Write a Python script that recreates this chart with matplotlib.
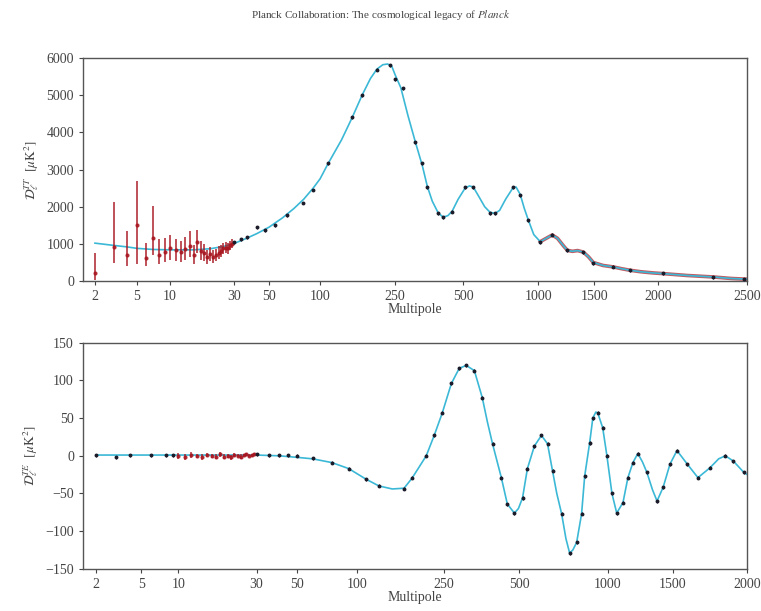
import numpy as np
import matplotlib
matplotlib.use('Agg')
import matplotlib.pyplot as plt

plt.rcParams['font.family'] = ['Liberation Serif', 'DejaVu Serif']
plt.rcParams['mathtext.fontset'] = 'stix'

# ---- TT spectrum ----
tt_model_ell = [2, 3, 4, 5, 7, 10, 15, 20, 25, 30, 36, 42, 50, 60, 70, 80, 91, 100,
                110, 130, 148, 167, 185, 200, 215, 228, 240, 250, 265, 285, 307, 330,
                347, 365, 388, 408, 428, 447, 475, 509, 530, 549, 575, 610, 641, 671,
                700, 740, 794, 815, 847, 880, 912, 960, 1015, 1060, 1107, 1150, 1200,
                1234, 1280, 1330, 1386, 1440, 1490, 1560, 1634, 1700, 1763, 1850, 1950,
                2025, 2150, 2296, 2400, 2500]
tt_model = [1020, 960, 920, 880, 850, 840, 840, 870, 930, 1010, 1150, 1280, 1450, 1700,
            1950, 2200, 2500, 2750, 3150, 3800, 4400, 5000, 5450, 5700, 5820, 5840, 5780,
            5550, 5200, 4450, 3750, 3100, 2550, 2150, 1830, 1720, 1760, 1880, 2200, 2500,
            2560, 2530, 2300, 2000, 1850, 1820, 1900, 2200, 2520, 2530, 2330, 1950, 1650,
            1250, 1060, 1150, 1240, 1150, 950, 830, 800, 820, 780, 650, 500, 420, 380,
            330, 290, 250, 220, 200, 150, 110, 70, 50]

tt_low_ell = list(range(2, 30))
tt_low = [220, 920, 700, 1500, 620, 1160, 700, 780, 900, 830, 780, 860, 950, 700, 1050,
          820, 750, 640, 720, 660, 700, 760, 820, 880, 900, 880, 960, 1000]
tt_low_lo = [200, 440, 300, 1050, 220, 450, 250, 280, 330, 280, 260, 280, 300, 230, 300,
             240, 220, 180, 190, 170, 170, 170, 160, 150, 150, 140, 130, 120]
tt_low_hi = [530, 1200, 650, 1200, 400, 850, 420, 380, 330, 300, 300, 330, 400, 280,
             330, 260, 240, 200, 200, 180, 170, 170, 160, 150, 150, 140, 130, 120]

tt_bin_ell = [30, 33, 36, 42, 47, 54, 64, 79, 91, 110, 148, 167, 200, 235, 250, 271,
              307, 330, 347, 388, 408, 447, 509, 549, 641, 671, 794, 847, 912, 1015,
              1107, 1234, 1386, 1490, 1634, 1763, 2025, 2296, 2478]
tt_bin = [1050, 1120, 1184, 1450, 1370, 1500, 1775, 2100, 2450, 3170, 4410, 5000, 5680,
          5810, 5430, 5190, 3740, 3170, 2530, 1830, 1720, 1860, 2530, 2530, 1830, 1830,
          2530, 2310, 1640, 1050, 1240, 830, 780, 480, 380, 290, 215, 100, 50]

# ---- TE spectrum ----
te_model_ell = [2, 5, 10, 20, 30, 40, 50, 60, 75, 91, 110, 126, 145, 164, 178, 192, 207,
                225, 245, 267, 287, 306, 330, 355, 372, 390, 423, 447, 477, 495, 512,
                532, 562, 594, 623, 648, 670, 696, 720, 741, 760, 783, 814, 834, 867,
                889, 910, 924, 961, 993, 1026, 1057, 1099, 1133, 1169, 1205, 1240, 1275,
                1320, 1358, 1410, 1472, 1523, 1585, 1652, 1730, 1790, 1837, 1895, 1973,
                2000]
te_model = [1, 1, 1, 1, 1, 0, -2, -4, -9, -17, -31, -40, -44, -43, -30, -15, 0, 27, 57,
            96, 116, 120, 113, 77, 45, 16, -29, -64, -76, -70, -56, -17, 13, 27, 16, -20,
            -50, -77, -110, -129, -125, -115, -77, -27, 17, 50, 58, 57, 37, 0, -50, -76,
            -62, -29, -9, 3, -8, -22, -45, -60, -42, -11, 7, -11, -29, -16, -4, 0, -7,
            -22, -25]

te_low_ell = list(range(10, 30))
te_low = [0, -1, 1, 0, -2, 1, 0, -1, 2, -1, 0, -2, 1, 0, -1, 1, 2, 0, 1, 2]
te_low_err = [4, 4, 4, 3, 4, 3, 3, 3, 3, 3, 3, 3, 3, 2, 3, 2, 2, 2, 2, 2]

te_bin_ell = [2, 3, 4, 6, 8, 9, 30, 35, 40, 45, 50, 60, 75, 91, 110, 126, 164, 178, 207,
              225, 245, 267, 287, 306, 330, 355, 390, 423, 447, 477, 512, 532, 562, 594,
              623, 648, 696, 741, 783, 814, 834, 867, 889, 924, 961, 993, 1026, 1057,
              1099, 1133, 1169, 1205, 1275, 1358, 1410, 1472, 1523, 1585, 1652, 1730,
              1837, 1895, 1973]
te_bin = [1, -2, 1, 1, 1, 1, 2, 1, 1, 1, 0, -3, -9, -17, -31, -40, -44, -29, 0, 27, 57,
          96, 116, 120, 113, 77, 16, -29, -64, -76, -56, -17, 13, 27, 16, -20, -77, -129,
          -115, -77, -27, 17, 50, 57, 37, 0, -50, -76, -62, -29, -9, 3, -22, -60, -42,
          -11, 7, -11, -29, -16, 0, -7, -22]

# axis layout: (multipole, position) anchors of the hybrid scale
top_anchor_ell = [1, 2, 5, 10, 30, 50, 100, 250, 500, 1000, 1500, 2000, 2500]
top_anchor_pos = [63.2, 95, 137, 170, 234, 269, 320, 395, 463, 538, 594, 658, 747]
bot_anchor_ell = [1, 2, 5, 10, 30, 50, 100, 250, 500, 1000, 1500, 2000]
bot_anchor_pos = [64.7, 98, 143, 180, 258, 298, 358, 445, 520, 608, 673, 747]
tick_ell_top = [2, 5, 10, 30, 50, 100, 250, 500, 1000, 1500, 2000, 2500]
tick_ell_bot = [2, 5, 10, 30, 50, 100, 250, 500, 1000, 1500, 2000]

line_c = '#3bb8d6'
dot_c = '#1b1b2a'
red_c = '#a8141e'
txt_c = '#444444'


def make_scale(anc_ell, anc_pos):
    la = np.log10(anc_ell)

    def fwd(x):
        x = np.asarray(x, dtype=float)
        return np.interp(np.log10(np.clip(x, 1e-3, None)), la, anc_pos)

    def inv(p):
        p = np.asarray(p, dtype=float)
        return 10 ** np.interp(p, anc_pos, la)
    return fwd, inv


fig = plt.figure(figsize=(7.61, 6.11), dpi=100)
ax1 = fig.add_axes([0.109, 0.540, 0.873, 0.365])
ax2 = fig.add_axes([0.109, 0.069, 0.873, 0.370])

fig.text(0.5, 0.975, r'Planck Collaboration: The cosmological legacy of $\it{Planck}$',
         ha='center', va='center', fontsize=8, color=txt_c)

# top panel
f1, i1 = make_scale(top_anchor_ell, top_anchor_pos)
ax1.set_xscale('function', functions=(f1, i1))
hi_ell = [e for e in tt_model_ell if e >= 1000]
hi_val = [v for e, v in zip(tt_model_ell, tt_model) if e >= 1000]
ax1.plot(hi_ell, hi_val, color=red_c, lw=2.6, alpha=0.7, zorder=1)
ax1.plot(tt_model_ell, tt_model, color=line_c, lw=1.2, zorder=2)
ax1.errorbar(tt_low_ell, tt_low, yerr=[tt_low_lo, tt_low_hi], fmt='o', ms=2.0,
             color=red_c, ecolor=red_c, elinewidth=1.3, alpha=0.8, zorder=3)
ax1.errorbar(tt_bin_ell, tt_bin, yerr=40, fmt='o', ms=1.8, color=dot_c,
             ecolor=dot_c, elinewidth=0.8, zorder=4)
ax1.set_xlim(i1(83), 2500)
ax1.set_ylim(0, 6000)
ax1.set_xticks(tick_ell_top)
ax1.set_xticklabels([str(t) for t in tick_ell_top])
ax1.xaxis.set_minor_locator(matplotlib.ticker.NullLocator())
ax1.set_yticks(np.arange(0, 6001, 1000))
ax1.set_xlabel('Multipole', fontsize=10, labelpad=0, color=txt_c)
ax1.set_ylabel(r'$\mathcal{D}_\ell^{TT}$  $[\mu{\rm K}^2]$', fontsize=9.5, color=txt_c)

# bottom panel
f2, i2 = make_scale(bot_anchor_ell, bot_anchor_pos)
ax2.set_xscale('function', functions=(f2, i2))
ax2.plot(te_model_ell, te_model, color=line_c, lw=1.2, zorder=2)
ax2.errorbar(te_low_ell, te_low, yerr=te_low_err, fmt='o', ms=2.0, color=red_c,
             ecolor=red_c, elinewidth=1.2, alpha=0.8, zorder=3)
ax2.errorbar(te_bin_ell, te_bin, yerr=2, fmt='o', ms=1.8, color=dot_c,
             ecolor=dot_c, elinewidth=0.8, zorder=4)
ax2.set_xlim(i2(85), 2000)
ax2.set_ylim(-150, 150)
ax2.set_xticks(tick_ell_bot)
ax2.set_xticklabels([str(t) for t in tick_ell_bot])
ax2.xaxis.set_minor_locator(matplotlib.ticker.NullLocator())
ax2.set_yticks(np.arange(-150, 151, 50))
ax2.set_xlabel('Multipole', fontsize=10, labelpad=0, color=txt_c)
ax2.set_ylabel(r'$\mathcal{D}_\ell^{TE}$  $[\mu{\rm K}^2]$', fontsize=9.5, color=txt_c)

for ax in (ax1, ax2):
    ax.tick_params(labelsize=10, length=3, width=0.8, colors=txt_c)
    for sp in ax.spines.values():
        sp.set_color('#555555')
        sp.set_linewidth(1.0)

fig.savefig('out.png', dpi=100)
